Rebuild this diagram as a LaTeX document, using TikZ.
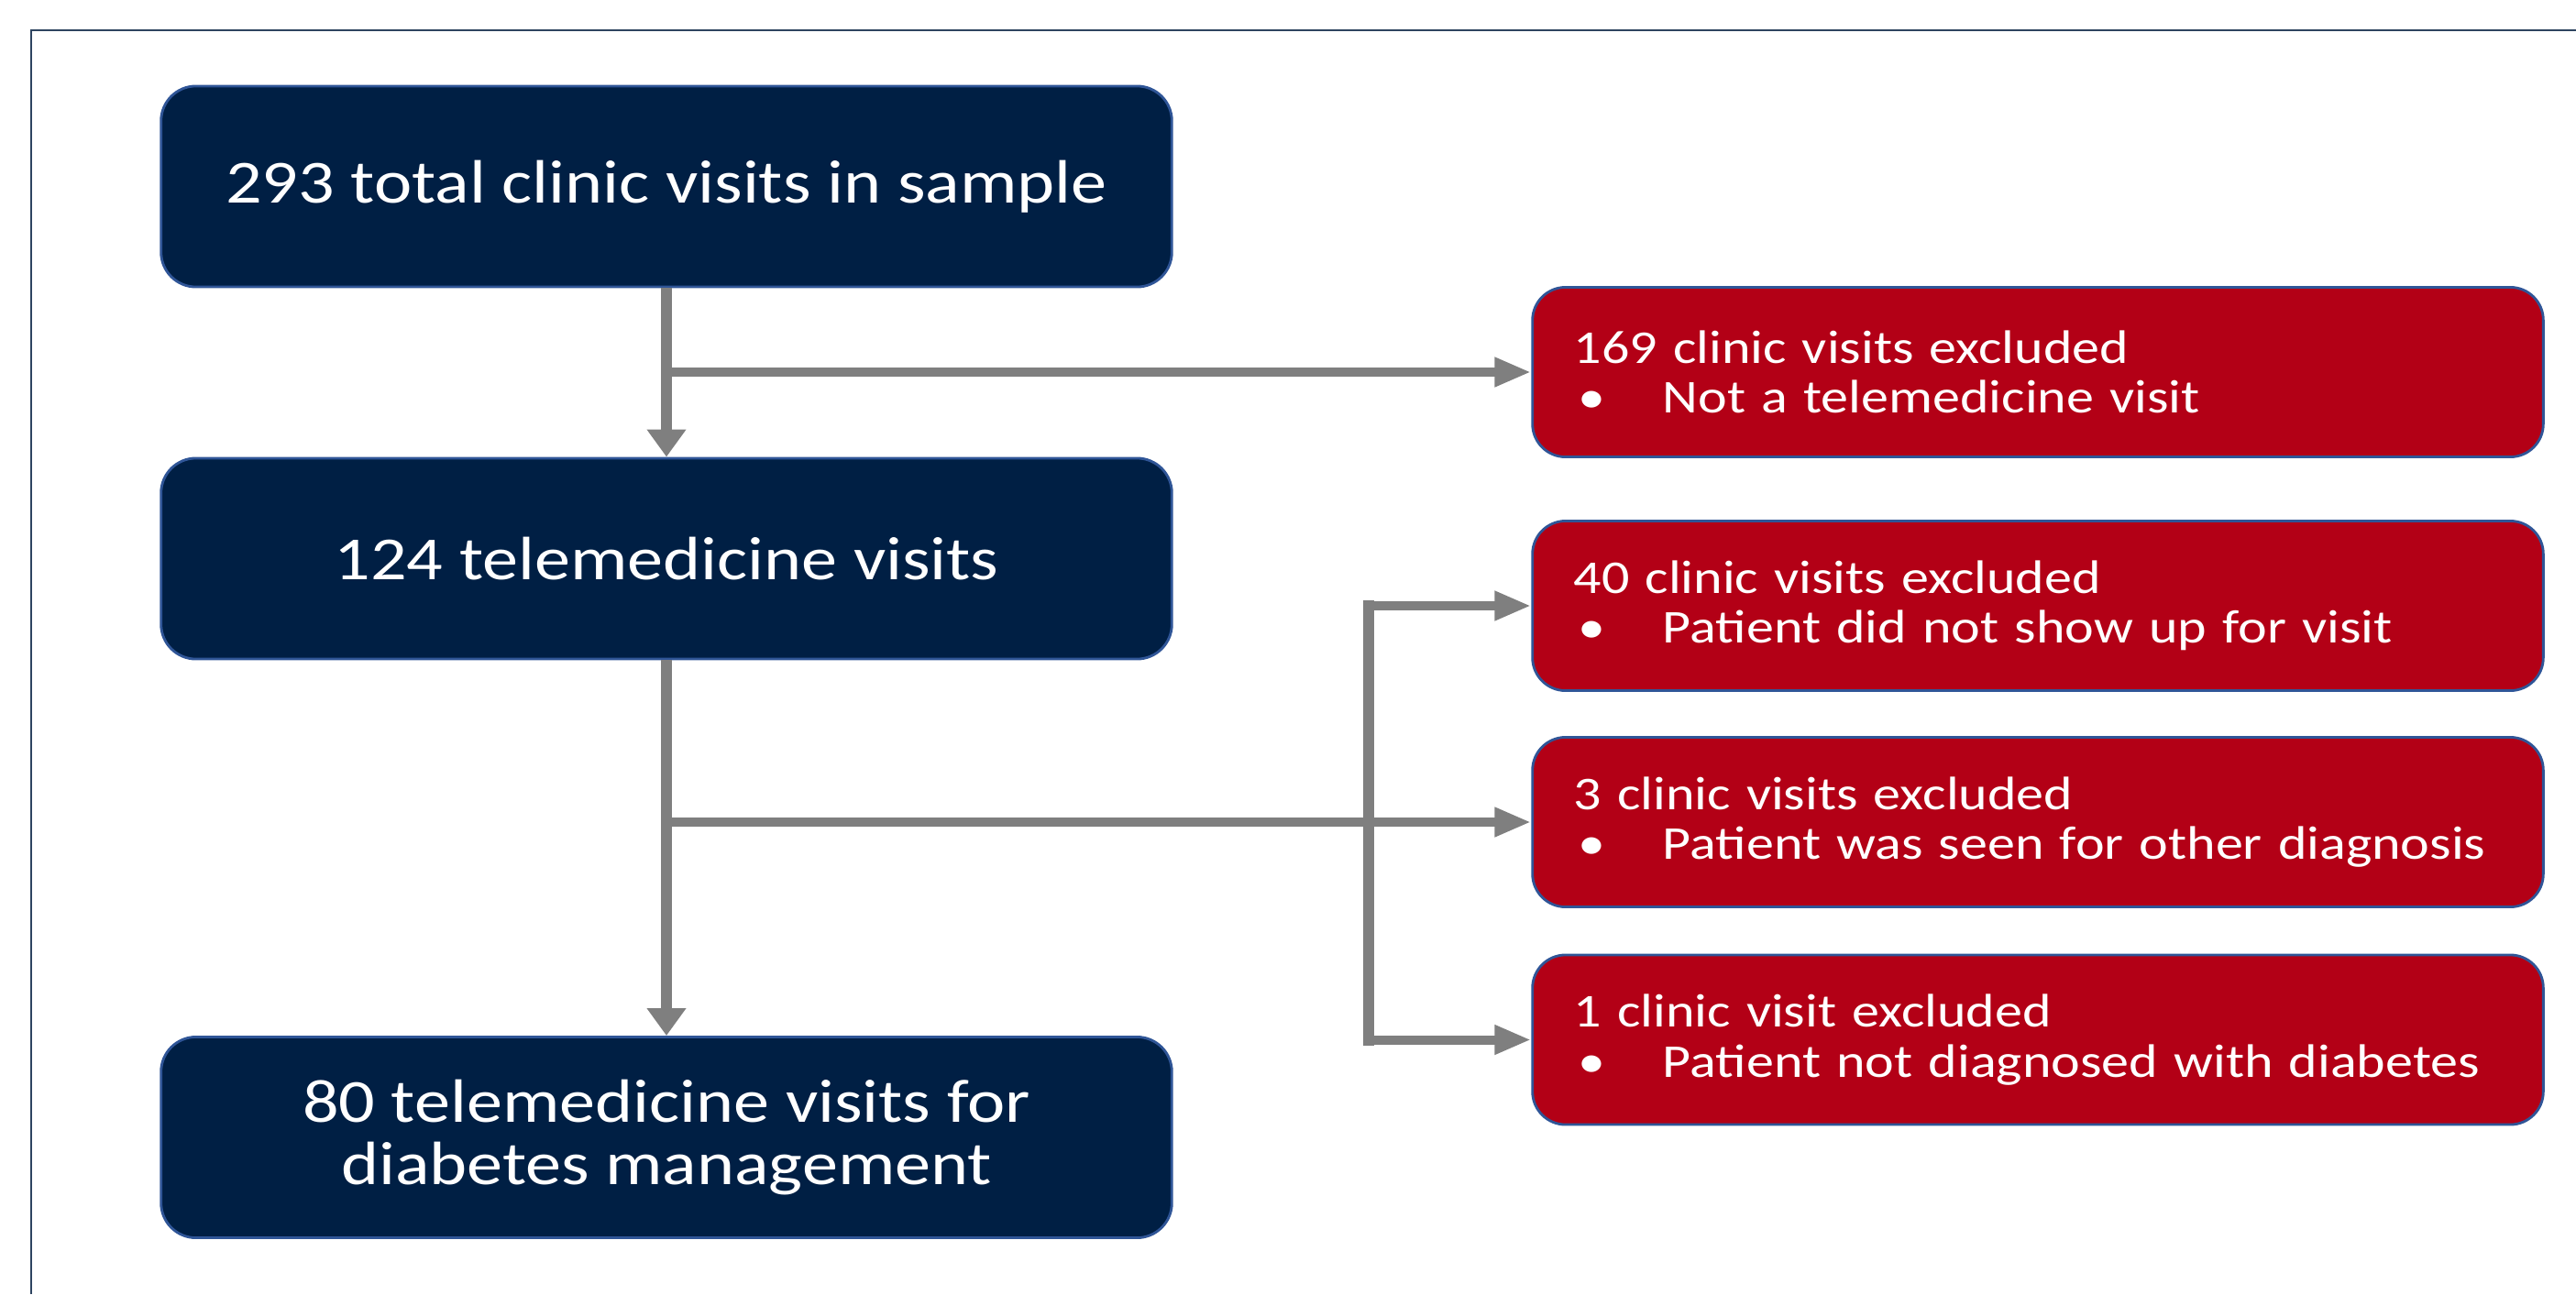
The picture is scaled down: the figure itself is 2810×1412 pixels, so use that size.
\documentclass[tikz,border=0pt]{standalone}
\usepackage{fontspec}
\setmainfont{Carlito}[FakeStretch=1.17]
\usetikzlibrary{arrows.meta}
\definecolor{navy}{RGB}{0,31,68}
\definecolor{exred}{RGB}{179,0,22}
\definecolor{rim}{RGB}{47,85,151}
\definecolor{flow}{RGB}{127,127,127}
\definecolor{frameline}{RGB}{46,68,96}
\newcommand{\bulletitem}[1]{\makebox[0.97cm][l]{\hspace{0.05cm}\textbullet}#1}
\begin{document}
\begin{tikzpicture}[x=0.01cm,y=-0.01cm,
  darkbox/.style={draw=rim, line width=0.8pt, fill=navy, rounded corners=0.38cm,
    minimum width=11.02cm, minimum height=2.19cm, inner sep=0pt,
    text=white, align=center, font=\fontsize{19}{19.6}\selectfont},
  redbox/.style={draw=rim, line width=0.8pt, fill=exred, rounded corners=0.36cm,
    minimum width=11.02cm, minimum height=1.85cm, inner xsep=0.45cm, inner ysep=0pt,
    text width=10.12cm, text=white, align=left, font=\fontsize{14.6}{15.4}\selectfont},
  harrow/.style={draw=flow, line width=0.1cm, -{Triangle[length=0.40cm,width=0.30cm]}},
  varrow/.style={draw=flow, line width=0.12cm, -{Triangle[length=0.30cm,width=0.41cm]}},
  vline/.style={draw=flow, line width=0.12cm, line cap=rect},
]
\useasboundingbox (0,0) rectangle (2810,1412);

% outer frame (top and left edges)
\draw[frameline, line width=0.6pt] (34,1412) -- (34,33) -- (2810,33);

% main flow
\node[darkbox] (b1) at (727,203.5) {293 total clinic visits in sample};
\node[darkbox] (b2) at (727,609.5) {124 telemedicine visits};
\node[darkbox] (b3) at (727,1241) {80 telemedicine visits for\\diabetes management};

% exclusions
\node[redbox] (r1) at (2223,406) {169 clinic visits excluded\\\bulletitem{Not a telemedicine visit}};
\node[redbox] (r2) at (2223,661) {40 clinic visits excluded\\\bulletitem{Patient did not show up for visit}};
\node[redbox] (r3) at (2223,897) {3 clinic visits excluded\\\bulletitem{Patient was seen for other diagnosis}};
\node[redbox] (r4) at (2223,1134.5) {1 clinic visit excluded\\\bulletitem{Patient not diagnosed with diabetes}};

% connectors
\draw[varrow] (b1.south) -- (b2.north);
\draw[harrow] (b1.south |- r1.west) -- (r1.west);
\draw[varrow] (b2.south) -- (b3.north);
\draw[harrow] (b2.south |- r3.west) -- (r3.west);

\coordinate (split) at (1493,0);
\draw[vline] (split |- r2.west) -- (split |- r4.west);
\draw[harrow] (split |- r2.west) -- (r2.west);
\draw[harrow] (split |- r4.west) -- (r4.west);
\end{tikzpicture}
\end{document}
